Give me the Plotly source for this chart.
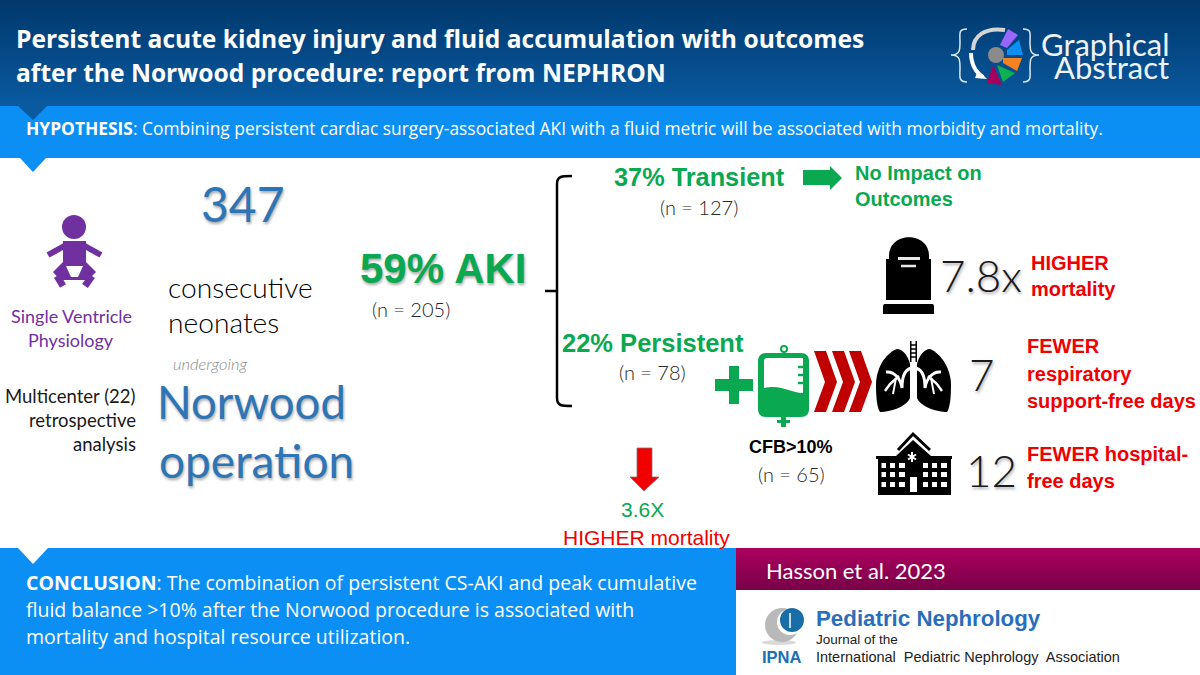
import plotly.graph_objects as go

# Texts of the abstract
TITLE_LINES = ["Persistent acute kidney injury and fluid accumulation with outcomes",
               "after the Norwood procedure: report from NEPHRON"]
LOGO_LINES = ["Graphical", "Abstract"]
HYPOTHESIS = "<b>HYPOTHESIS</b>: Combining persistent cardiac surgery-associated AKI with a fluid metric will be associated with morbidity and mortality."
COHORT_N = "347"
COHORT_LINES = ["consecutive", "neonates"]
UNDERGOING = "undergoing"
OPERATION_LINES = ["Norwood", "operation"]
PHYSIOLOGY_LINES = ["Single Ventricle", "Physiology"]
STUDY_LINES = ["Multicenter (22)", "retrospective", "analysis"]
AKI = ["59% AKI", "(n = 205)"]
TRANSIENT = ["37% Transient", "(n = 127)"]
NO_IMPACT = ["No Impact on", "Outcomes"]
PERSISTENT = ["22% Persistent", "(n = 78)"]
CFB = ["CFB&gt;10%", "(n = 65)"]
MORTALITY_AKI = ["3.6X", "HIGHER mortality"]
MORTALITY_RATIO = "7.8x"
MORTALITY_LINES = ["HIGHER", "mortality"]
RESP_DAYS = "7"
RESP_LINES = ["FEWER", "respiratory", "support-free days"]
HOSP_DAYS = "12"
HOSP_LINES = ["FEWER hospital-", "free days"]
CONCLUSION = ["<b>CONCLUSION</b>: The combination of persistent CS-AKI and peak cumulative",
              "fluid balance &gt;10% after the Norwood procedure is associated with",
              "mortality and hospital resource utilization."]
CITATION = "Hasson et al. 2023"
JOURNAL = ["Pediatric Nephrology", "Journal of the", "International  Pediatric Nephrology  Association", "IPNA"]

GREEN = "#0aa850"
RED = "#f00000"
DARKRED = "#c00000"
BLUE = "#0b8ff5"
NUMBLUE = "#2e75b6"
PURPLE = "#7030a0"
SHADOW = "1px 2px 3px rgba(0,0,0,0.35)"

fig = go.Figure()


def rect(x0, y0, x1, y1, color):
    fig.add_shape(type="rect", x0=x0, y0=y0, x1=x1, y1=y1, fillcolor=color, line_width=0)


def poly(points, color, line=None, lw=0):
    d = "M" + " L".join(f"{x},{y}" for x, y in points) + " Z"
    fig.add_shape(type="path", path=d, fillcolor=color, line=dict(color=line or color, width=lw))


def curve(d, color, width, fill=None):
    fig.add_shape(type="path", path=d, fillcolor=fill or "rgba(0,0,0,0)",
                  line=dict(color=color, width=width))


def seg(x0, y0, x1, y1, color, width):
    fig.add_shape(type="line", x0=x0, y0=y0, x1=x1, y1=y1, line=dict(color=color, width=width))


def circle(cx, cy, r, color):
    fig.add_shape(type="circle", x0=cx - r, y0=cy - r, x1=cx + r, y1=cy + r, fillcolor=color, line_width=0)


def gradient(x0, y0, x1, y1, top, bottom, step=2):
    # stacked thin strips, shapes have no gradient fill
    n = int((y1 - y0) / step)
    for i in range(n):
        t = i / max(n - 1, 1)
        c = [round(a + (b - a) * t) for a, b in zip(top, bottom)]
        rect(x0, y0 + i * step, x1, min(y0 + (i + 1) * step + 0.5, y1), f"rgb({c[0]},{c[1]},{c[2]})")


def label(x, y, text, size, color="black", family="Open Sans", anchor="left", shadow=None, weight=None):
    font = dict(size=size, color=color, family=family)
    if shadow:
        font["shadow"] = shadow
    if weight:
        font["weight"] = weight
    fig.add_annotation(x=x, y=y, text=text, showarrow=False, xanchor=anchor, yanchor="middle",
                       align=anchor, font=font, borderpad=0, borderwidth=0)


# bands
gradient(0, 0, 1200, 106, (0, 56, 108), (10, 90, 160))
rect(0, 106, 1200, 158, BLUE)
poly([(18, 106), (47, 106), (33, 120)], "#0a5a9f")
poly([(20, 158), (46, 158), (33, 172)], BLUE)
rect(0, 548, 736, 675, BLUE)
poly([(18, 548), (48, 548), (33, 564)], "white")
gradient(736, 548, 1200, 590, (170, 0, 94), (122, 0, 72))

# logo
curve("M967,29 C958,29 960,34 960,42 C960,50 960,55 951,55 C960,55 960,60 960,68 C960,76 958,82 967,82", "#dfe8f0", 1.5)
curve("M1023,29 C1032,29 1030,34 1030,42 C1030,50 1030,55 1039,55 C1030,55 1030,60 1030,68 C1030,76 1032,82 1023,82", "#dfe8f0", 1.5)
curve("M973,50 C973,36 985,27 1005,30", "#d4d4d4", 4)
curve("M971,53 C971,64 976,73 983,77", "white", 4)
poly([(978, 70), (987, 79), (975, 78)], "white")
poly([(1000, 45), (1008, 29), (1018, 35), (1007, 48)], "#9966ff")
poly([(1007, 50), (1019, 40), (1023, 55), (1007, 55)], BLUE)
poly([(1003, 58), (1022, 58), (1017, 71), (1003, 63)], "#f58220")
poly([(997, 65), (1015, 73), (1003, 82)], "#0fb050")
poly([(993, 65), (1002, 85), (987, 83)], "#a6005f")
circle(996, 55, 8, "#8b8b8b")

# header texts
label(16, 38, TITLE_LINES[0], 24.6, "white", weight=700)
label(16, 72, TITLE_LINES[1], 24.6, "white", weight=700)
label(1169, 44, LOGO_LINES[0], 31, "#eef3f8", "Lato", "right")
label(1169, 67, LOGO_LINES[1], 31, "#eef3f8", "Lato", "right")
label(26, 128, HYPOTHESIS, 17.4, "white")

# baby
circle(74, 227, 12, PURPLE)
rect(63, 241, 86, 268, PURPLE)
seg(48, 255, 66, 245, PURPLE, 6)
seg(101, 255, 83, 245, PURPLE, 6)
poly([(63, 262), (86, 262), (96, 272), (88, 280), (60, 280), (53, 272)], PURPLE)
seg(57, 276, 63, 286, PURPLE, 7)
seg(92, 276, 85, 286, PURPLE, 7)
poly([(66, 266), (83, 266), (78, 277), (71, 277)], "white")

label(71, 316, PHYSIOLOGY_LINES[0], 18, PURPLE, "Lato", "center")
label(71, 340, PHYSIOLOGY_LINES[1], 18, PURPLE, "Lato", "center")
for yy, line in zip([396, 420, 444], STUDY_LINES):
    label(136, yy, line, 18.5, "#1a1a1a", "Lato", "right")

label(243, 203, COHORT_N, 48, NUMBLUE, "Lato", "center", SHADOW)
label(168, 287, COHORT_LINES[0], 28.2, "black", "Lato", weight=300)
label(168, 322, COHORT_LINES[1], 28.2, "black", "Lato", weight=300)
label(173, 364, f"<i>{UNDERGOING}</i>", 16.5, "#8c8c8c", "Lato", weight=300)
label(157, 401, OPERATION_LINES[0], 45.5, NUMBLUE, "Lato", shadow=SHADOW)
label(159, 460, OPERATION_LINES[1], 46, NUMBLUE, "Lato", shadow=SHADOW)

# AKI and the bracket
label(360, 268, f"<b>{AKI[0]}</b>", 42, GREEN, "Liberation Sans", shadow=SHADOW)
label(372, 309, AKI[1], 20, "#262626", "Lato", weight=300)
curve("M572,176 C562,176 557,176 557,184 L557,398 C557,406 562,406 572,406", "black", 2.5)
seg(545, 291, 557, 291, "black", 2.5)

label(699, 177, f"<b>{TRANSIENT[0]}</b>", 25.3, GREEN, "Liberation Sans", "center")
label(699, 207, TRANSIENT[1], 20, "#262626", "Lato", "center", weight=300)
poly([(803, 170), (830, 170), (830, 166), (842, 178), (830, 190), (830, 185), (803, 185)], GREEN)
label(855, 173, f"<b>{NO_IMPACT[0]}</b>", 20, GREEN, "Liberation Sans")
label(855, 199, f"<b>{NO_IMPACT[1]}</b>", 20, GREEN, "Liberation Sans")
label(653, 343, f"<b>{PERSISTENT[0]}</b>", 25.5, GREEN, "Liberation Sans", "center")
label(652, 372, PERSISTENT[1], 20, "#262626", "Lato", "center", weight=300)

# plus
rect(729, 366, 739, 404, GREEN)
rect(715, 379, 753, 391, GREEN)

# fluid bag
circle(784, 349, 4, GREEN)
circle(784, 349, 2, "white")
fig.add_shape(type="path", path="M766,353 L801,353 C806,353 809,356 809,361 L809,409 C809,414 806,417 801,417 L766,417 C761,417 758,414 758,409 L758,361 C758,356 761,353 766,353 Z",
              fillcolor=GREEN, line_width=0)
fig.add_shape(type="path", path="M767,358 L803,358 L803,393 C790,393 782,384 764,388 L764,361 C764,359 765,358 767,358 Z",
              fillcolor="white", line_width=0)
for yy in [367, 375, 383]:
    seg(798, yy, 809, yy, GREEN, 2.5)
rect(781, 417, 786, 427, GREEN)
rect(777, 420, 790, 423, GREEN)

# chevrons
for s in [814, 832, 849]:
    poly([(s, 351), (s + 12, 351), (s + 23, 382), (s + 12, 412), (s, 412), (s + 11, 382)], DARKRED)

# headstone
fig.add_shape(type="path", path="M889,259 L889,256 C889,231 929,231 929,256 L929,259 Z", fillcolor="black", line_width=0)
rect(886, 259, 931, 300, "black")
fig.add_shape(type="path", path="M885,304 L932,304 C934,304 934,306 934,308 L934,314 L883,314 L883,308 C883,306 883,304 885,304 Z",
              fillcolor="black", line_width=0)
seg(898, 258.5, 920, 258.5, "#e8e8e8", 3)
seg(901, 266, 916, 266, "#e8e8e8", 2.5)

# lungs
rect(910, 341, 911.5, 362, "black")
rect(915.5, 341, 917, 362, "black")
for yy in [345, 349, 353, 357]:
    seg(910, yy, 917, yy, "black", 1.5)
fig.add_shape(type="path", path="M897,349 C884,354 876,370 876,385 C876,397 877,408 880,412 C890,412 906,407 910,398 L910,364 C908,356 903,349 897,349 Z",
              fillcolor="black", line_width=0)
fig.add_shape(type="path", path="M930,349 C942,354 951,370 951,385 C951,397 950,408 947,412 C937,412 921,407 917,398 L917,364 C919,356 924,349 930,349 Z",
              fillcolor="black", line_width=0)
curve("M913.5,362 L913.5,368 C905,368 902,376 902,388 C901,380 895,371 886,372", "white", 3)
curve("M913.5,368 C922,368 925,376 925,388 C926,380 932,371 941,372", "white", 3)
curve("M899,376 L890,384 L885,391", "white", 2.5)
curve("M928,376 L937,384 L942,391", "white", 2.5)
curve("M896,378 L893,394", "white", 2)
curve("M931,378 L934,394", "white", 2)

# hospital
curve("M898,450 L913,434 L930,450", "black", 3)
poly([(896, 456), (913, 440), (931, 456)], "black")
rect(876, 456, 952, 459, "black")
rect(878, 459, 951, 495, "black")
for xx0, xx1 in [(881.5, 886), (890, 895), (899, 905), (923, 928), (932, 937), (941, 947)]:
    for yy0, yy1 in [(463, 468), (472, 477), (482, 487)]:
        rect(xx0, yy0, xx1, yy1, "white")
rect(910, 477, 917, 492, "white")
seg(912, 452, 912, 462, "white", 2)
seg(908, 454.5, 916, 459.5, "white", 2)
seg(908, 459.5, 916, 454.5, "white", 2)

# red arrow
poly([(637, 448), (652, 448), (652, 477), (659, 477), (644, 491), (630, 477), (637, 477)], RED, "#8a6f70", 0.8)

label(642, 509, MORTALITY_AKI[0], 21, GREEN, "Liberation Sans", "center")
label(646, 537, MORTALITY_AKI[1], 21, RED, "Liberation Sans", "center")
label(791, 447, f"<b>{CFB[0]}</b>", 18, "black", "Liberation Sans", "center")
label(791, 474, CFB[1], 20, "#262626", "Lato", "center", weight=300)

label(940, 275, MORTALITY_RATIO, 44, "#1a1a1a", "Lato", shadow=SHADOW, weight=300)
label(982, 374, RESP_DAYS, 44, "#1a1a1a", "Lato", "center", SHADOW, 300)
label(966, 470, HOSP_DAYS, 44, "#1a1a1a", "Lato", shadow=SHADOW, weight=300)

label(1031, 263, f"<b>{MORTALITY_LINES[0]}</b>", 20, RED, "Liberation Sans")
label(1031, 289, f"<b>{MORTALITY_LINES[1]}</b>", 20, RED, "Liberation Sans")
for yy, line in zip([346, 374, 401], RESP_LINES):
    label(1027, yy, f"<b>{line}</b>", 20, RED, "Liberation Sans")
for yy, line in zip([454, 481], HOSP_LINES):
    label(1027, yy, f"<b>{line}</b>", 20, RED, "Liberation Sans")

# conclusion and citation
for yy, line in zip([582, 609, 636], CONCLUSION):
    label(26, yy, line, 19.5, "white")
label(766, 570, CITATION, 22, "white", "Lato")

# journal mark
fig.add_shape(type="circle", x0=762, y0=640, x1=796, y1=645, fillcolor="#d9d9d9", line_width=0)
circle(782, 625, 17, "#b9b9b9")
circle(790, 622, 13, "white")
circle(792, 620, 12, "#1a6ea8")
seg(790, 613, 790, 628, "white", 1.5)
label(816, 618, f"<b>{JOURNAL[0]}</b>", 22.3, "#2a6ebb", "Liberation Sans")
label(816, 639, JOURNAL[1], 13.5, "#222222", "Liberation Sans")
label(816, 657, JOURNAL[2], 14.5, "#222222", "Liberation Sans")
label(762, 657, f"<b>{JOURNAL[3]}</b>", 16.5, "#1a6fb5", "Liberation Sans")

fig.update_layout(
    width=1200,
    height=675,
    margin=dict(l=0, r=0, t=0, b=0),
    paper_bgcolor="white",
    plot_bgcolor="white",
    showlegend=False,
    xaxis=dict(range=[0, 1200], visible=False, fixedrange=True),
    yaxis=dict(range=[675, 0], visible=False, fixedrange=True),
)

fig.write_html("out.html", config=dict(displayModeBar=False),
               post_script="document.body.style.margin='0';")
